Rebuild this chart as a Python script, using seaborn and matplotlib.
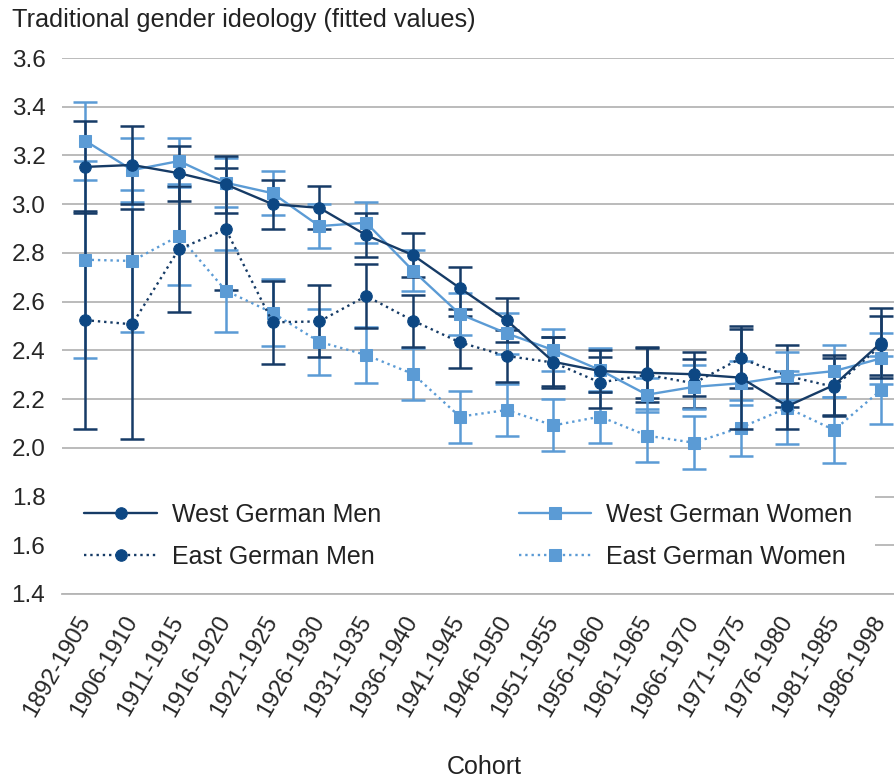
import numpy as np
import pandas as pd
import matplotlib
matplotlib.use('Agg')
import matplotlib.pyplot as plt
import seaborn as sns

# ============================================
# Data
# ============================================
COHORTS = ['1892-1905', '1906-1910', '1911-1915', '1916-1920', '1921-1925',
           '1926-1930', '1931-1935', '1936-1940', '1941-1945', '1946-1950',
           '1951-1955', '1956-1960', '1961-1965', '1966-1970', '1971-1975',
           '1976-1980', '1981-1985', '1986-1998']

west_men = [3.153, 3.161, 3.127, 3.081, 3.000, 2.985, 2.873, 2.791, 2.656,
            2.524, 2.353, 2.315, 2.308, 2.302, 2.288, 2.171, 2.258, 2.431]
west_men_err = [0.19, 0.16, 0.113, 0.117, 0.10, 0.088, 0.089, 0.089, 0.087,
                0.09, 0.10, 0.087, 0.105, 0.09, 0.21, 0.095, 0.125, 0.144]

west_women = [3.26, 3.14, 3.177, 3.088, 3.045, 2.91, 2.924, 2.727, 2.549,
              2.47, 2.401, 2.319, 2.218, 2.25, 2.265, 2.295, 2.315, 2.367]
west_women_err = [0.16, 0.13, 0.095, 0.10, 0.09, 0.09, 0.085, 0.085, 0.086,
                  0.085, 0.085, 0.09, 0.07, 0.09, 0.09, 0.10, 0.108, 0.105]

east_men = [2.524, 2.507, 2.816, 2.897, 2.515, 2.519, 2.623, 2.522, 2.433,
            2.377, 2.35, 2.268, 2.30, 2.265, 2.367, 2.295, 2.25, 2.42]
east_men_err = [0.447, 0.472, 0.26, 0.25, 0.17, 0.148, 0.13, 0.107, 0.107,
                0.105, 0.105, 0.103, 0.11, 0.10, 0.12, 0.128, 0.12, 0.12]

east_women = [2.772, 2.767, 2.87, 2.645, 2.554, 2.435, 2.381, 2.303, 2.128,
              2.155, 2.092, 2.128, 2.05, 2.021, 2.083, 2.164, 2.073, 2.237]
east_women_err = [0.405, 0.293, 0.2, 0.168, 0.137, 0.135, 0.116, 0.107, 0.107,
                  0.107, 0.107, 0.107, 0.11, 0.108, 0.115, 0.15, 0.135, 0.14]

DARK = '#163b66'
DARK_MARK = '#0d4783'
LIGHT = '#5b9bd5'
GRID = '#b5b5b5'

# ============================================
# Style
# ============================================
sns.set_style('white')
plt.rcParams['font.family'] = ['Liberation Sans', 'DejaVu Sans']
plt.rcParams['text.color'] = '#222222'

fig = plt.figure(figsize=(8.95, 7.8), dpi=100)
ax = fig.add_axes([62 / 895, 1 - 594 / 780, (895 - 62) / 895, (594 - 58) / 780])

x = np.arange(len(COHORTS))
series = [
    ('West German Men', west_men, west_men_err, DARK, DARK_MARK, '-', 'o', 8.3, 5),
    ('East German Men', east_men, east_men_err, DARK, DARK_MARK, ':', 'o', 8.3, 4),
    ('West German Women', west_women, west_women_err, LIGHT, LIGHT, '-', 's', 8.0, 4),
    ('East German Women', east_women, east_women_err, LIGHT, LIGHT, ':', 's', 8.0, 3),
]

handles = []
for name, vals, errs, col, mcol, ls, mk, ms, z in series:
    ax.errorbar(x, vals, yerr=errs, fmt='none', ecolor=col, elinewidth=1.8,
                capsize=8.5, capthick=1.8, zorder=z - 1)
    df = pd.DataFrame({'pos': x, 'value': vals})
    sns.lineplot(data=df, x='pos', y='value', ax=ax, color=col, linestyle=ls,
                 linewidth=1.7, marker=mk, markersize=ms, markerfacecolor=mcol,
                 markeredgecolor=mcol, zorder=z, label=name, legend=False)
    handles.append(ax.lines[-1])

ax.set_xlim(-0.5, 17.3)
ax.set_ylim(1.4, 3.6)
ax.set_yticks(np.arange(1.4, 3.61, 0.2))
ax.set_yticklabels([f'{v:.1f}' for v in np.arange(1.4, 3.61, 0.2)], fontsize=17.5)
ax.set_xticks(x)
ax.set_xticklabels(COHORTS, fontsize=17, rotation=60, ha='right',
                   va='center', rotation_mode='anchor')
ax.tick_params(axis='x', length=11, width=1.3, color=GRID, pad=6)
ax.tick_params(axis='y', length=0, pad=12)
ax.set_xlabel('')
ax.set_ylabel('')
ax.yaxis.grid(True, color=GRID, linewidth=1.3)
ax.xaxis.grid(False)
ax.set_axisbelow(True)
for s in ['left', 'right', 'top']:
    ax.spines[s].set_visible(False)
ax.spines['bottom'].set_color(GRID)
ax.spines['bottom'].set_linewidth(1.3)

leg = ax.legend(handles=[handles[0], handles[1], handles[2], handles[3]],
                labels=['West German Men', 'East German Men',
                        'West German Women', 'East German Women'],
                ncol=2, loc='center left', bbox_to_anchor=(0.0, 0.108),
                borderaxespad=0, fontsize=18, frameon=True, framealpha=1,
                facecolor='white', edgecolor='none', fancybox=False,
                handlelength=2.9, handletextpad=0.6, columnspacing=5.5,
                labelspacing=0.72, borderpad=0.9)
leg.set_zorder(6)

fig.text(12 / 895, 1 - 20 / 780, 'Traditional gender ideology (fitted values)',
         fontsize=18.2, ha='left', va='center')
fig.text(484 / 895, 1 - 767 / 780, 'Cohort', fontsize=18, ha='center', va='center')

fig.savefig('out.png', dpi=100)
